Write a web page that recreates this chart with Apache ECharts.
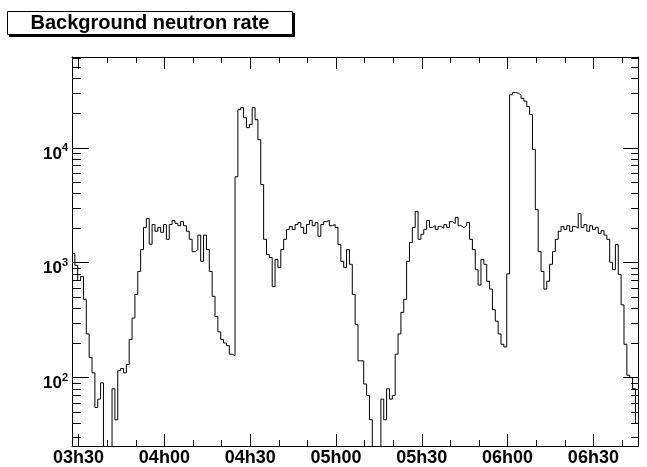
<!DOCTYPE html>
<html><head><meta charset="utf-8">
<script src="https://cdn.jsdelivr.net/npm/echarts@6/dist/echarts.min.js"></script>
<style>html,body{margin:0;padding:0;background:#fff}#c{width:647px;height:467px}</style>
</head><body><div id="c"></div>
<script>
// ---- data ----
const titleText = 'Background neutron rate';
const binStartMin = 207.7;   // minutes since midnight of first bin's left edge
const binWidthMin = 1;       // bin width in minutes
const counts = [
  1200, 950, 700, 760, 480, 240, 150, 110, 55, 65,
  90, 0, 0, 0, 80, 43, 115, 120, 110, 130,
  215, 330, 530, 840, 1300, 2030, 2430, 1450, 2150, 1880,
  2030, 1840, 2150, 1600, 2150, 2330, 2200, 2100, 2280, 2100,
  1880, 1600, 1250, 1300, 1740, 1030, 1740, 1300, 840, 510,
  340, 250, 215, 200, 190, 160, 155, 5600, 21500, 22400,
  18300, 15000, 16000, 22400, 17600, 11800, 4800, 1600, 1180, 1110,
  620, 1070, 910, 1300, 1600, 1950, 2070, 1950, 2150, 2240,
  2030, 1800, 2150, 2330, 2100, 2240, 1700, 2150, 2280, 2330,
  2100, 2150, 2030, 1440, 1030, 910, 1300, 970, 530, 290,
  140, 140, 88, 70, 43, 0, 0, 0, 65, 43,
  80, 65, 70, 160, 240, 370, 480, 1030, 1500, 2030,
  2800, 1600, 1770, 1950, 2330, 2030, 2100, 1950, 2070, 2000,
  2150, 2030, 2280, 2200, 2480, 2100, 2030, 2100, 2240, 1600,
  1300, 870, 640, 1070, 970, 690, 590, 390, 310, 240,
  195, 185, 800, 29000, 30300, 30000, 29000, 27000, 25500, 22800,
  19500, 9700, 2900, 1250, 840, 590, 690, 970, 1250, 1600,
  1880, 2070, 1950, 2100, 1880, 2070, 2000, 2680, 2030, 2150,
  1880, 2100, 1950, 2030, 1800, 1900, 1740, 1600, 1010, 870,
  1440, 790, 430, 195, 105, 100, 80, 40
];
const xMin = 207.7, xMax = 405.6;
const yMin = 25.4, yMax = 61800;
const xMajorTicks = [210, 240, 270, 300, 330, 360, 390];
const xMinorTicks = [220, 230, 250, 260, 280, 290, 310, 320, 340, 350, 370, 380, 400];
const yMajorTicks = [100, 1000, 10000];
const yMinorTicks = [30, 40, 50, 60, 70, 80, 90, 200, 300, 400, 500, 600, 700, 800, 900,
  2000, 3000, 4000, 5000, 6000, 7000, 8000, 9000, 20000, 30000, 40000, 50000, 60000];

// ---- chart ----
const FONT = '"Liberation Sans", Arial, Helvetica, sans-serif';
const pad2 = n => (n < 10 ? '0' : '') + n;
const fmtTime = v => { const m = Math.round(v); return pad2(Math.floor(m / 60)) + 'h' + pad2(m % 60); };

const seriesData = counts.map((c, i) => [binStartMin + i * binWidthMin, c > 0 ? c : 0.1]);
seriesData.push([binStartMin + counts.length * binWidthMin, counts[counts.length - 1] || 0.1]);

function xAx(position, ticks, len, showLine, showLabel) {
  return {
    type: 'value', position, min: xMin, max: xMax, gridIndex: 0,
    axisLine: { show: showLine, onZero: false, lineStyle: { color: '#000', width: 1 } },
    axisTick: { show: true, inside: true, length: len, customValues: ticks, lineStyle: { color: '#000', width: 1 } },
    axisLabel: showLabel ? {
      show: true, customValues: ticks, formatter: fmtTime, margin: 3,
      color: '#000', fontFamily: FONT, fontWeight: 'bold', fontSize: 18
    } : { show: false },
    splitLine: { show: false }
  };
}
function yAx(position, ticks, len, showLine, showLabel) {
  return {
    type: 'log', logBase: 10, position, min: yMin, max: yMax, gridIndex: 0,
    axisLine: { show: showLine, onZero: false, lineStyle: { color: '#000', width: 1 } },
    axisTick: { show: true, inside: true, length: len, customValues: ticks, lineStyle: { color: '#000', width: 1 } },
    axisLabel: showLabel ? {
      show: true, customValues: ticks, margin: 4, padding: [9, 0, 0, 0],
      formatter: v => '{b|10}{s|' + Math.round(Math.log10(v)) + '}',
      rich: {
        b: { fontFamily: FONT, fontWeight: 'bold', fontSize: 17, color: '#000', lineHeight: 20, verticalAlign: 'bottom' },
        s: { fontFamily: FONT, fontWeight: 'bold', fontSize: 11, color: '#000', lineHeight: 8, verticalAlign: 'top' }
      }
    } : { show: false },
    splitLine: { show: false }
  };
}

const chart = echarts.init(document.getElementById('c'), null, { renderer: 'canvas' });
chart.setOption({
  animation: false,
  backgroundColor: '#fff',
  grid: { left: 72, top: 57, width: 566, height: 390, containLabel: false },
  xAxis: [
    xAx('bottom', xMajorTicks, 12, true, true),
    xAx('bottom', xMinorTicks, 6, false, false),
    xAx('top', xMajorTicks, 12, true, false),
    xAx('top', xMinorTicks, 6, false, false)
  ],
  yAxis: [
    yAx('left', yMajorTicks, 17, true, true),
    yAx('left', yMinorTicks, 9, false, false),
    yAx('right', yMajorTicks, 15, true, false),
    yAx('right', yMinorTicks, 7, false, false)
  ],
  series: [{
    type: 'line', xAxisIndex: 0, yAxisIndex: 0, step: 'end', symbol: 'none',
    clip: true, data: seriesData,
    lineStyle: { color: '#000', width: 1 }
  }],
  graphic: [
    { type: 'rect', shape: { x: 9, y: 13, width: 286, height: 24 }, style: { fill: '#000' } },
    { type: 'rect', shape: { x: 7.5, y: 11.5, width: 285, height: 23 }, style: { fill: '#fff', stroke: '#000', lineWidth: 1 } },
    { type: 'text', x: 150, y: 23.5, style: { text: titleText, fontFamily: FONT, fontWeight: 'bold', fontSize: 20, fill: '#000', align: 'center', verticalAlign: 'middle' } }
  ]
});
</script>
</body></html>
